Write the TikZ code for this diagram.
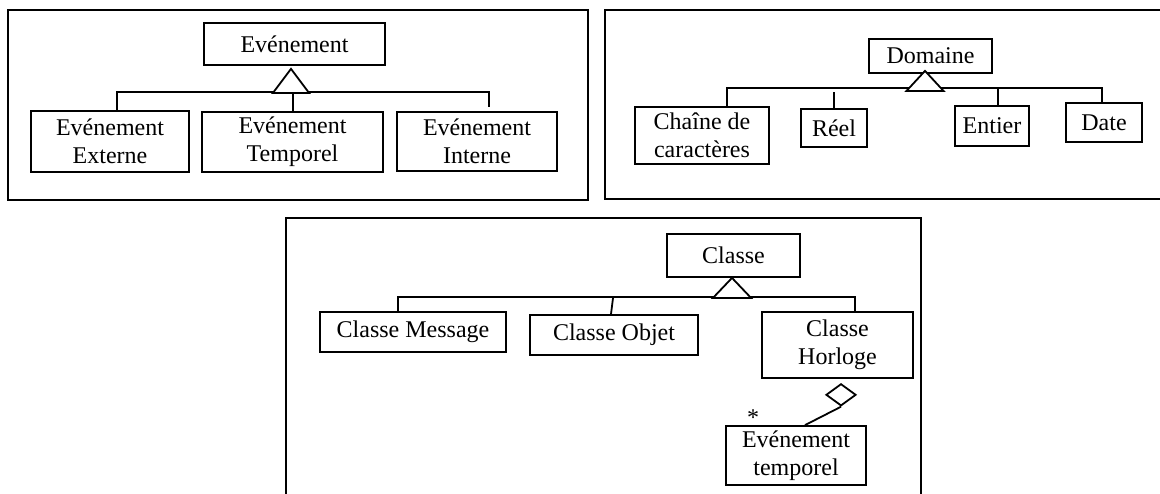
\documentclass[tikz,border=0pt]{standalone}
\usepackage{fontspec}
\setmainfont{Liberation Serif}
\usepackage{tikz}
\usetikzlibrary{shapes.geometric, positioning}
\tikzset{
  umlclass/.style = {rectangle, draw=black, line width=0.9pt, fill=white,
                     align=center, inner sep=1pt,
                     font=\fontsize{12pt}{14pt}\selectfont},
  gentri/.style   = {draw=black, line width=0.9pt, fill=white, line join=miter},
  link/.style     = {draw=black, line width=0.9pt},
  frame/.style    = {draw=black, line width=1pt},
  aggr/.style     = {diamond, draw=black, line width=0.9pt, fill=white,
                     inner sep=0pt, minimum width=15pt, minimum height=11pt},
  mult/.style     = {inner sep=0pt, font=\fontsize{12pt}{14pt}\selectfont},
}

\begin{document}
\begin{tikzpicture}[x=0.5pt, y=-0.5pt]
\useasboundingbox (0,0) rectangle (1160,493);

% ---------- Frames ----------
\draw[frame] (8,10) rectangle (588,200);
\draw[frame] (1162,10) -- (605,10) -- (605,199) -- (1162,199);
\draw[frame] (286,495) -- (286,218) -- (921,218) -- (921,495);

% ---------- Evenement ----------
\node[umlclass, minimum width=90.5pt, minimum height=21pt] (ev) at (294.5,44) {Evénement};
\node[umlclass, minimum width=79pt, minimum height=30.5pt] (ext) at (110,141.5) {Evénement\\Externe};
\node[umlclass, minimum width=90.5pt, minimum height=30pt] (tem) at (292.5,142) {Evénement\\Temporel};
\node[umlclass, minimum width=80pt, minimum height=29.5pt] (int) at (477,141.5) {Evénement\\Interne};

\draw[link] ([xshift=3.5pt]ext.north) -- ++(0,-18) -| ([xshift=6pt,yshift=2pt]int.north);
\draw[link] ([xshift=0.25pt]tem.north) -- ++(0,-19);
\draw[gentri] ([xshift=-1.75pt,yshift=-1.5pt]ev.south) -- ++(-18,24) coordinate (ev-l) -- ++(36,0) coordinate (ev-r) -- cycle;

% ---------- Domaine ----------
\node[umlclass, minimum width=61.5pt, minimum height=17pt] (dom) at (930.5,56) {Domaine};
\node[umlclass, minimum width=67pt, minimum height=28.5pt] (cha) at (702,135.5) {Chaîne de\\caractères};
\node[umlclass, minimum width=33pt, minimum height=19pt] (ree) at (834,128) {Réel};
\node[umlclass, minimum width=37pt, minimum height=20pt] (ent) at (992,126) {Entier};
\node[umlclass, minimum width=38pt, minimum height=19.5pt] (dat) at (1104,122.5) {Date};

\draw[link] ([xshift=12.5pt]cha.north) -- ++(0,-18) -| ([xshift=-1pt]dat.north);
\draw[link] (ree.north) -- ++(0,-16);
\draw[link] ([xshift=3pt]ent.north) -- ++(0,-17);
\draw[gentri] ([xshift=-2.75pt,yshift=1.5pt]dom.south) -- ++(-18.5,20) coordinate (dom-l) -- ++(37,0) coordinate (dom-r) -- cycle;

% ---------- Classe ----------
\node[umlclass, minimum width=66.5pt, minimum height=21.5pt] (cls) at (733.5,255.5) {Classe};
\node[umlclass, minimum width=93pt, minimum height=20pt] (msg) at (413,332) {Classe Message};
\node[umlclass, minimum width=84pt, minimum height=20pt] (obj) at (614,335) {Classe Objet};
\node[umlclass, minimum width=75.5pt, minimum height=33pt] (hor) at (837.5,345) {Classe\\Horloge};
\node[umlclass, minimum width=70pt, minimum height=29.5pt] (evt) at (796,455.5) {Evénement\\temporel};

\draw[link] ([xshift=-7.5pt]msg.north) -- ++(0,-14) -| ([xshift=8.75pt]hor.north);
\draw[link] ([xshift=-1.5pt]obj.north) -- ++(2,-16);
\draw[gentri] ([xshift=-0.75pt]cls.south) -- ++(-19,20) coordinate (cls-l) -- ++(38,0) coordinate (cls-r) -- cycle;

\node[aggr, anchor=north] (agg) at ([xshift=1.75pt,yshift=-2pt]hor.south) {};
\draw[link] (agg.south) -- ([xshift=4.5pt]evt.north);
\node[mult, anchor=base] (star) at (753,425) {*};

\end{tikzpicture}
\end{document}
